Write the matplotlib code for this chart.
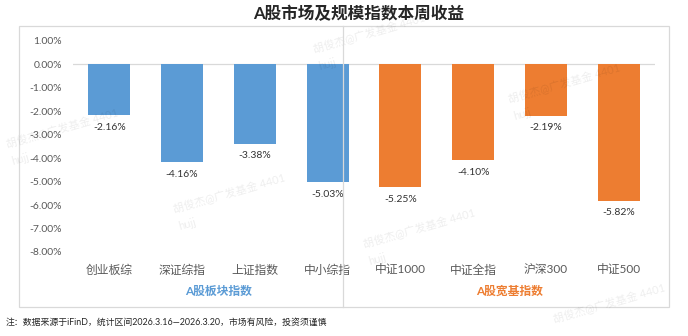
import matplotlib
matplotlib.use("Agg")
import matplotlib.pyplot as plt
from matplotlib.patches import Rectangle
from matplotlib.lines import Line2D
from matplotlib.transforms import blended_transform_factory

plt.rcParams["font.family"] = ["Lato", "Noto Sans CJK SC", "DejaVu Sans"]

# === DATA ===
categories = ["创业板综", "深证综指", "上证指数", "中小综指",
              "中证1000", "中证全指", "沪深300", "中证500"]
returns = [-2.16, -4.16, -3.38, -5.03, -5.25, -4.10, -2.19, -5.82]
groups = ["A股板块指数", "A股宽基指数"]
group_sizes = [4, 4]
y_ticks = [1, 0, -1, -2, -3, -4, -5, -6, -7, -8]

BLUE = "#5B9BD5"
ORANGE = "#ED7D31"
group_colors = [BLUE, ORANGE]

W, H = 688, 336
fig = plt.figure(figsize=(W / 100, H / 100), dpi=100)

# plot area in pixels: x 73..655, y 40.8..252
ax = fig.add_axes([73 / W, 1 - 252 / H, (655 - 73) / W, (252 - 40.8) / H])

colors = []
for c, n in zip(group_colors, group_sizes):
    colors += [c] * n

x = list(range(len(categories)))
bars = ax.bar(x, returns, width=0.58, color=colors, zorder=2)
ax.bar_label(bars, labels=[f"{v:.2f}%" for v in returns], padding=5.5,
             fontsize=7.5, color="#333333")

ax.axhline(0, color="#D9D9D9", lw=0.9, zorder=1)
ax.set_xlim(-0.5, len(categories) - 0.5)
ax.set_ylim(-8, 1)
ax.set_yticks(y_ticks)
ax.set_yticklabels([f"{v:.2f}%" for v in y_ticks], fontsize=7.5, color="#595959")
ax.set_xticks(x)
ax.set_xticklabels(categories, fontsize=8.5, color="#595959")
ax.tick_params(axis="y", length=0, pad=8)
ax.tick_params(axis="x", length=0, pad=9)
for s in ax.spines.values():
    s.set_visible(False)

# group labels under the categories
trans = blended_transform_factory(ax.transData, fig.transFigure)
start = 0
for g, n, c in zip(groups, group_sizes, group_colors):
    mid = start + (n - 1) / 2
    ax.text(mid, 1 - 291 / H, g, transform=trans, ha="center", va="center",
            fontsize=8.5, fontweight="bold", color=c)
    start += n

# outer frame and divider
fig.add_artist(Rectangle((19 / W, 1 - 307 / H), 650 / W, 281 / H,
                         transform=fig.transFigure, fill=False,
                         edgecolor="#D9D9D9", lw=0.9, zorder=0))
fig.add_artist(Line2D([343 / W, 343 / W], [1 - 307 / H, 1 - 26 / H],
                      transform=fig.transFigure, color="#D9D9D9", lw=0.9, zorder=5))

fig.text(359 / W, 1 - 14 / H, "A股市场及规模指数本周收益", ha="center", va="center",
         fontsize=12, fontweight="bold", color="#262626")
fig.text(6 / W, 1 - 322 / H,
         "注：数据来源于iFinD，统计区间2026.3.16—2026.3.20，市场有风险，投资须谨慎",
         ha="left", va="center", fontsize=6.4, color="#262626")

# faint watermarks
wm = "胡俊杰@广发基金 4401"
for wx, wy in [(315, 55), (510, 105), (8, 150), (175, 215), (365, 250),
               (555, 325)]:
    fig.text(wx / W, 1 - wy / H, wm, rotation=16, fontsize=8, color="#000000",
             alpha=0.07, ha="left", va="bottom", rotation_mode="anchor")
    if wy < 300:
        fig.text((wx + 5) / W, 1 - (wy + 17) / H, "hujj", rotation=16, fontsize=8,
                 color="#000000", alpha=0.07, ha="left", va="bottom",
                 rotation_mode="anchor")

fig.savefig("out.png", dpi=100)
